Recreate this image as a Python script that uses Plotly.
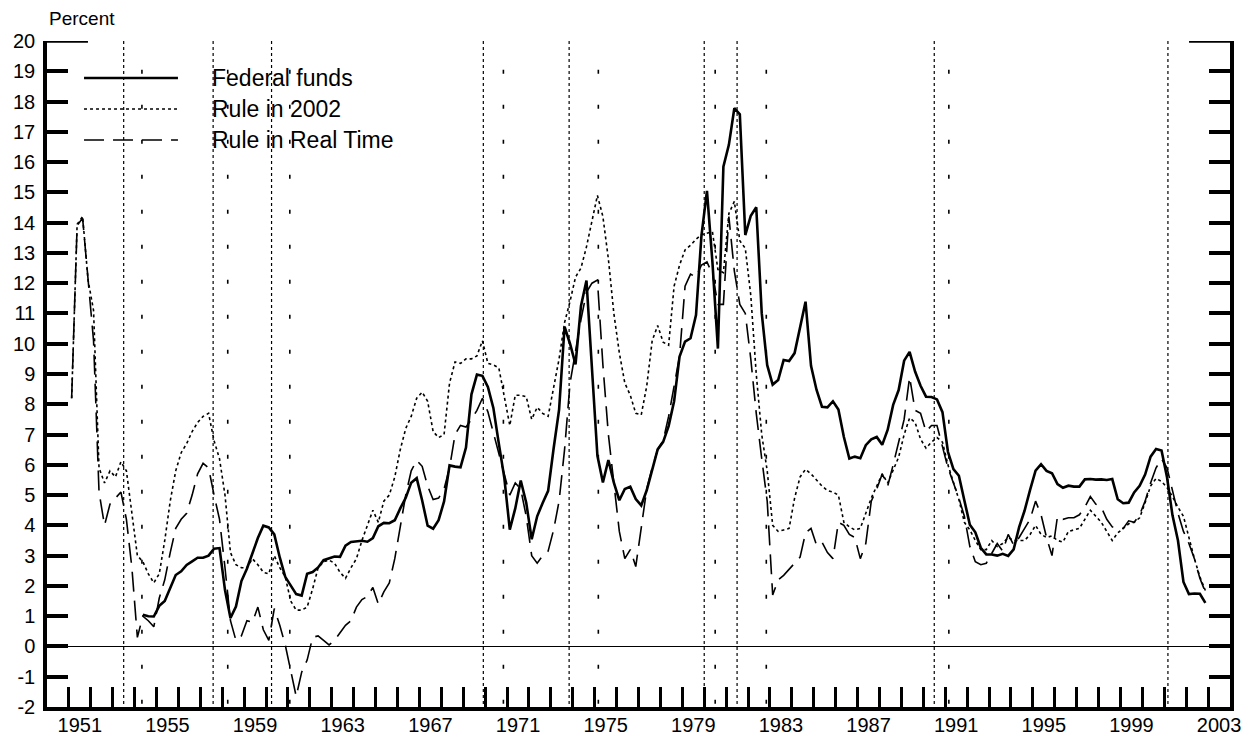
import plotly.graph_objects as go
import pandas as pd

# ---------------- data (quarterly, 1951Q1 - 2002Q4) ----------------
quarters = pd.period_range("1951Q1", "2002Q4", freq="Q")

rule_2002 = [
    8.2, 13.95, 14.2, 12.1,   11.1, 5.9, 5.4, 5.8,     5.6, 6.1, 5.8, 4.3,      3.0, 2.8, 2.4, 2.1,
    2.4, 3.5, 4.8, 5.8,       6.4, 6.7, 7.1, 7.4,      7.6, 7.7, 6.8, 6.2,      5.0, 3.1, 2.7, 2.6,
    2.6, 2.9, 2.7, 2.45,      2.4, 3.0, 2.6, 2.3,      1.5, 1.2, 1.2, 1.3,      1.9, 2.6, 2.8, 2.85,
    2.75, 2.45, 2.25, 2.6,    2.9, 3.5, 4.0, 4.5,      4.1, 4.8, 5.0, 5.6,      6.5, 7.2, 7.6, 8.2,
    8.4, 8.1, 7.1, 6.9,       7.0, 8.7, 9.4, 9.35,     9.5, 9.5, 9.6, 10.1,     9.35, 9.3, 9.2, 8.2,
    7.3, 8.3, 8.3, 8.25,      7.5, 7.9, 7.7, 7.6,      8.5, 9.5, 10.7, 11.4,    12.2, 12.5, 13.2, 14.0,
    14.9, 14.2, 12.8, 11.0,   9.7, 8.7, 8.3, 7.7,      7.65, 8.6, 10.1, 10.6,   10.05, 9.95, 11.9, 12.6,
    13.1, 13.25, 13.45, 13.6, 13.65, 13.7, 12.45, 12.35, 14.3, 14.7, 13.4, 13.15, 11.6, 9.0, 7.0, 5.8,
    4.0, 3.8, 3.85, 3.9,      4.9, 5.6, 5.85, 5.7,     5.5, 5.3, 5.15, 5.1,     5.0, 4.1, 3.95, 3.85,
    3.9, 4.4, 4.9, 5.3,       5.7, 5.4, 5.8, 6.25,     7.0, 7.55, 7.4, 6.85,    6.55, 6.75, 6.9, 6.75,
    6.0, 5.4, 4.85, 4.1,      3.85, 3.5, 3.2, 3.2,     3.5, 3.3, 3.4, 3.6,      3.5, 3.5, 3.5, 3.7,
    4.0, 3.7, 3.6, 3.65,      3.5, 3.45, 3.8, 3.85,    3.9, 4.2, 4.5, 4.3,      4.1, 3.8, 3.5, 3.75,
    3.9, 4.05, 4.1, 4.25,     4.75, 5.3, 5.55, 5.45,   5.25, 4.95, 4.6, 4.3,    3.6, 2.9, 2.3, 1.85,
]

rule_real_time = [
    8.2, 13.9, 14.15, 12.1,   10.1, 5.1, 4.0, 4.7,     4.9, 5.1, 4.2, 2.6,      0.3, 1.0, 0.85, 0.65,
    1.6, 2.2, 3.1, 3.9,       4.2, 4.4, 5.0, 5.7,      6.05, 5.9, 5.0, 4.2,     2.6, 0.85, 0.2, 0.35,
    0.85, 0.8, 1.3, 0.55,     0.2, 1.25, 0.7, 0.05,    -0.8, -1.65, -0.85, -0.45, 0.3, 0.35, 0.2, 0.05,
    0.2, 0.45, 0.7, 0.85,     1.3, 1.55, 1.65, 1.95,   1.4, 1.8, 2.1, 2.9,      4.0, 5.0, 5.8, 6.15,
    5.95, 5.3, 4.85, 4.9,     5.2, 5.9, 7.0, 7.3,      7.25, 7.5, 7.8, 8.2,     7.75, 7.05, 6.4, 5.7,
    5.0, 5.4, 5.2, 4.3,       3.0, 2.75, 3.0, 3.15,    3.85, 4.8, 6.5, 8.7,     9.8, 10.8, 11.7, 12.0,
    12.1, 9.3, 7.0, 5.5,      3.8, 2.9, 3.2, 2.64,     3.95, 5.2, 5.9, 6.5,     6.8, 7.6, 8.6, 9.6,
    11.9, 12.3, 12.2, 12.6,   12.7, 12.3, 11.3, 11.3,  14.2, 12.4, 11.3, 11.0,  9.5, 7.7, 6.2, 4.8,
    1.7, 2.2, 2.35, 2.55,     2.75, 2.95, 3.75, 3.9,   3.35, 3.45, 3.1, 2.9,    4.1, 4.0, 3.7, 3.6,
    2.9, 3.4, 4.8, 5.2,       5.7, 5.3, 6.0, 6.8,      7.5, 8.9, 7.8, 7.7,      7.1, 7.3, 7.3, 6.6,
    5.9, 5.4, 4.9, 4.3,       3.3, 2.8, 2.7, 2.75,     3.1, 3.4, 3.15, 3.7,     3.35, 3.6, 3.9, 4.2,
    4.8, 4.35, 3.6, 3.0,      4.3, 4.2, 4.25, 4.25,    4.35, 4.6, 4.95, 4.7,    4.6, 4.2, 3.95, 3.9,
    3.9, 4.15, 4.1, 4.35,     4.8, 5.4, 5.9, 6.2,      5.9, 5.2, 4.4, 3.8,      3.4, 2.9, 2.25, 1.8,
]

# federal funds rate starts in 1954Q2
federal_funds = [None] * 13 + [
    1.05, 1.00, 0.99,
    1.34, 1.50, 1.94, 2.36,   2.48, 2.69, 2.81, 2.93,  2.93, 3.00, 3.23, 3.25,  1.86, 0.94, 1.32, 2.16,
    2.57, 3.08, 3.58, 3.99,   3.93, 3.70, 2.94, 2.30,  2.00, 1.73, 1.68, 2.40,  2.46, 2.61, 2.85, 2.92,
    2.97, 2.96, 3.33, 3.45,   3.46, 3.49, 3.46, 3.58,  3.97, 4.08, 4.07, 4.17,  4.56, 4.91, 5.41, 5.56,
    4.82, 3.99, 3.89, 4.17,   4.79, 5.98, 5.94, 5.92,  6.57, 8.33, 8.98, 8.94,  8.57, 7.88, 6.70, 5.57,
    3.86, 4.56, 5.48, 4.75,   3.54, 4.30, 4.74, 5.14,  6.54, 7.82, 10.56, 10.00, 9.32, 11.25, 12.09, 9.35,
    6.30, 5.42, 6.16, 5.41,   4.83, 5.20, 5.28, 4.87,  4.66, 5.16, 5.82, 6.51,  6.76, 7.28, 8.10, 9.58,
    10.07, 10.18, 10.95, 13.58, 15.05, 12.69, 9.84, 15.85, 16.57, 17.78, 17.58, 13.59, 14.23, 14.51, 11.01, 9.29,
    8.65, 8.80, 9.46, 9.43,   9.69, 10.56, 11.39, 9.27, 8.48, 7.92, 7.90, 8.10, 7.83, 6.92, 6.21, 6.27,
    6.22, 6.65, 6.84, 6.92,   6.66, 7.16, 7.98, 8.47,  9.44, 9.73, 9.08, 8.61,  8.25, 8.24, 8.16, 7.74,
    6.43, 5.86, 5.64, 4.82,   4.02, 3.77, 3.26, 3.04,  3.04, 3.00, 3.06, 2.99,  3.21, 3.94, 4.49, 5.17,
    5.81, 6.02, 5.80, 5.72,   5.36, 5.24, 5.31, 5.28,  5.28, 5.52, 5.53, 5.51,  5.52, 5.50, 5.53, 4.86,
    4.73, 4.75, 5.09, 5.31,   5.68, 6.27, 6.52, 6.47,  5.59, 4.33, 3.50, 2.13,  1.73, 1.75, 1.74, 1.44,
]

# NBER business-cycle peaks and troughs (month)
recession_peaks = ["1953-07", "1957-08", "1960-04", "1969-12", "1973-11",
                   "1980-01", "1981-07", "1990-07", "2001-03"]
recession_troughs = ["1954-05", "1958-04", "1961-02", "1970-11", "1975-03",
                     "1980-07", "1982-11", "1991-03"]

year_ticks = list(range(1951, 2004))
year_labels = list(range(1951, 2004, 4))
y_ticks = list(range(-2, 21))

series_names = ["Federal funds", "Rule in 2002", "Rule in Real Time"]

# --------------------------------------------------------------------
FONT = "Liberation Sans, Arial, sans-serif"
x_dates = [p.year + (p.quarter - 0.5) / 4 for p in quarters]


def month_to_year(s):
    y, m = s.split("-")
    return int(y) + (int(m) - 1) / 12


styles = [
    dict(color="black", width=2.6, dash="solid"),
    dict(color="black", width=1.6, dash="3px,3px"),
    dict(color="black", width=1.6, dash="20px,9px"),
]

fig = go.Figure()
fig.add_trace(go.Scatter(x=x_dates, y=federal_funds, mode="lines", name=series_names[0],
                         line=styles[0], connectgaps=False, showlegend=False))
fig.add_trace(go.Scatter(x=x_dates, y=rule_2002, mode="lines", name=series_names[1],
                         line=styles[1], showlegend=False, xaxis="x2"))
fig.add_trace(go.Scatter(x=x_dates, y=rule_real_time, mode="lines", name=series_names[2],
                         line=styles[2], showlegend=False, xaxis="x2"))

shapes = []
for p in recession_peaks:
    xv = month_to_year(p)
    shapes.append(dict(type="line", xref="x", yref="y", x0=xv, x1=xv, y0=20, y1=-2,
                       line=dict(color="black", width=1.2, dash="3px,3px"), layer="below"))
for t in recession_troughs:
    xv = month_to_year(t)
    shapes.append(dict(type="line", xref="x", yref="y", x0=xv, x1=xv, y0=19.05, y1=-2,
                       line=dict(color="black", width=1.6, dash="4px,31px"), layer="below"))

# longer tick marks at the top of both vertical axes
shapes.append(dict(type="line", xref="x", yref="y", x0=1950, x1=1951.87, y0=20, y1=20,
                   line=dict(color="black", width=3.5)))
shapes.append(dict(type="line", xref="x", yref="y", x0=2002.13, x1=2004, y0=20, y1=20,
                   line=dict(color="black", width=3.5)))

# legend
legend_rows = [0.9444, 0.8979, 0.8514]
annotations = []
for name, st, yy in zip(series_names, styles, legend_rows):
    shapes.append(dict(type="line", xref="paper", yref="paper", x0=0.0313, x1=0.1107,
                       y0=yy, y1=yy, line=st))
    annotations.append(dict(xref="paper", yref="paper", x=0.1378, y=yy, text=name,
                            showarrow=False, xanchor="left", yanchor="middle",
                            font=dict(family=FONT, size=23, color="black")))

annotations.append(dict(xref="paper", yref="paper", x=0.0, y=1.0345, text="Percent",
                        showarrow=False, xanchor="left", yanchor="middle",
                        font=dict(family=FONT, size=19, color="black")))

# the page body adds an 8px offset, so the figure is 8px smaller on each axis
fig.update_layout(
    width=1242, height=735,
    margin=dict(l=39, r=20, t=33, b=36, autoexpand=False),
    paper_bgcolor="white", plot_bgcolor="white",
    font=dict(family=FONT, size=20, color="black"),
    showlegend=False,
    shapes=shapes,
    annotations=annotations,
    xaxis=dict(
        range=[1950, 2004], tickmode="array", tickvals=year_ticks,
        ticktext=[""] * len(year_ticks), ticks="inside", ticklen=20, tickwidth=3,
        tickcolor="black", showline=True, linewidth=4, linecolor="black",
        showgrid=False, zeroline=False, mirror=False, automargin=False,
    ),
    xaxis2=dict(
        range=[1950, 2004], overlaying="x", anchor="y", side="bottom",
        tickmode="array", tickvals=[y + 0.5 for y in year_labels],
        ticktext=[str(y) for y in year_labels], ticks="", showline=False,
        showgrid=False, zeroline=False, automargin=False,
        tickfont=dict(family=FONT, size=20, color="black"), ticklabelstandoff=4,
    ),
    yaxis=dict(
        range=[-2, 20], tickmode="array", tickvals=y_ticks,
        ticktext=[str(v) for v in y_ticks], ticks="inside", ticklen=21, tickwidth=3.5,
        tickcolor="black", showline=True, linewidth=3.5, linecolor="black",
        mirror="ticks", showgrid=False, zeroline=True, zerolinecolor="black",
        zerolinewidth=1, automargin=False,
        tickfont=dict(family=FONT, size=20, color="black"), ticklabelstandoff=4,
    ),
)

fig.write_html("out.html")
